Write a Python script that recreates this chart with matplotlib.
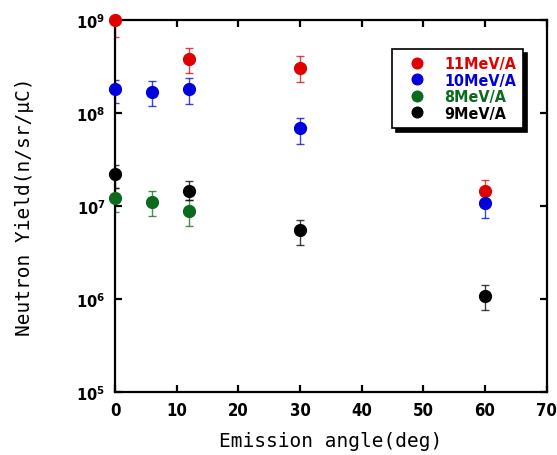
import math
import matplotlib
matplotlib.use('Agg')
import matplotlib.pyplot as plt
from matplotlib.ticker import FixedLocator, FuncFormatter, NullLocator
from matplotlib import font_manager

# measured yields, neutrons / sr / uC
labels = ['11MeV/A', '10MeV/A', '8MeV/A', '9MeV/A']
colors = ['#e00000', '#0000dd', '#0b6a1e', '#000000']

angle_11 = [0, 12, 30, 60]
yield_11 = [1.0e9, 3.85e8, 3.1e8, 1.45e7]
lo_11 = [6.6e8, 2.7e8, 2.2e8, 1.1e7]
hi_11 = [1.3e9, 5.1e8, 4.1e8, 1.9e7]

angle_10 = [0, 6, 12, 30, 60]
yield_10 = [1.83e8, 1.71e8, 1.83e8, 6.9e7, 1.09e7]
lo_10 = [1.3e8, 1.2e8, 1.27e8, 4.7e7, 7.5e6]
hi_10 = [2.3e8, 2.24e8, 2.4e8, 8.9e7, 1.4e7]

angle_8 = [0, 6, 12]
yield_8 = [1.22e7, 1.12e7, 8.8e6]
lo_8 = [8.6e6, 7.8e6, 6.1e6]
hi_8 = [1.56e7, 1.46e7, 1.15e7]

angle_9 = [0, 12, 30, 60]
yield_9 = [2.23e7, 1.45e7, 5.5e6, 1.08e6]
lo_9 = [1.56e7, 1.15e7, 3.8e6, 7.6e5]
hi_9 = [2.8e7, 1.87e7, 7.1e6, 1.4e6]

x_ticks = [0, 10, 20, 30, 40, 50, 60, 70]
y_exponents = [5, 6, 7, 8, 9]

series = [
    (angle_11, yield_11, lo_11, hi_11),
    (angle_10, yield_10, lo_10, hi_10),
    (angle_8, yield_8, lo_8, hi_8),
    (angle_9, yield_9, lo_9, hi_9),
]

narrow = font_manager.FontProperties(family='DejaVu Sans', stretch='condensed',
                                     weight='bold', size=12)

fig = plt.figure(figsize=(5.57, 4.56), dpi=100)
ax = fig.add_axes([0.2065, 0.1388, 0.775, 0.8141])

for (x, y, lo, hi), lab, col in zip(series, labels, colors):
    err = [[v - l for v, l in zip(y, lo)], [h - v for v, h in zip(y, hi)]]
    ax.errorbar(x, y, yerr=err, fmt='none', ecolor=col, alpha=0.75,
                elinewidth=1.0, capsize=3, capthick=1.0)
    ax.plot(x, y, 'o', color=col, markersize=8.5, label=lab, clip_on=False,
            zorder=5)

ax.set_yscale('log')
ax.set_xlim(0, 70)
ax.set_ylim(1e5, 1e9)
ax.xaxis.set_major_locator(FixedLocator(x_ticks))
ax.yaxis.set_major_locator(FixedLocator([10.0 ** e for e in y_exponents]))
ax.yaxis.set_minor_locator(NullLocator())
ax.yaxis.set_major_formatter(FuncFormatter(
    lambda v, p: r'$\mathbf{10^{%d}}$' % round(math.log10(v))))

for s in ax.spines.values():
    s.set_linewidth(1.6)
ax.tick_params(which='major', direction='in', length=5, width=1.6,
               top=True, right=True, pad=7)
for t in ax.get_xticklabels():
    t.set_fontproperties(narrow)
for t in ax.get_yticklabels():
    t.set_fontsize(10.5)

ax.set_xlabel('Emission angle(deg)', family='DejaVu Sans Mono', fontsize=14,
              labelpad=8)
ax.set_ylabel('Neutron Yield(n/sr/\u03bcC)', family='DejaVu Sans Mono',
              fontsize=14, labelpad=30)

leg_font = font_manager.FontProperties(family='DejaVu Sans', stretch='condensed',
                                       weight='bold', size=11.5)
leg = ax.legend(loc='upper left', bbox_to_anchor=(0.642, 0.923),
                borderaxespad=0, frameon=True, fancybox=False,
                edgecolor='black',
                shadow={'color': 'black', 'alpha': 1, 'ox': 3, 'oy': -3},
                handletextpad=0.6, borderpad=0.45, labelspacing=0.1,
                prop=leg_font, labelcolor='linecolor', handlelength=2.2,
                markerscale=0.9)
leg.get_frame().set_linewidth(1.2)

fig.savefig('out.png', dpi=100)
